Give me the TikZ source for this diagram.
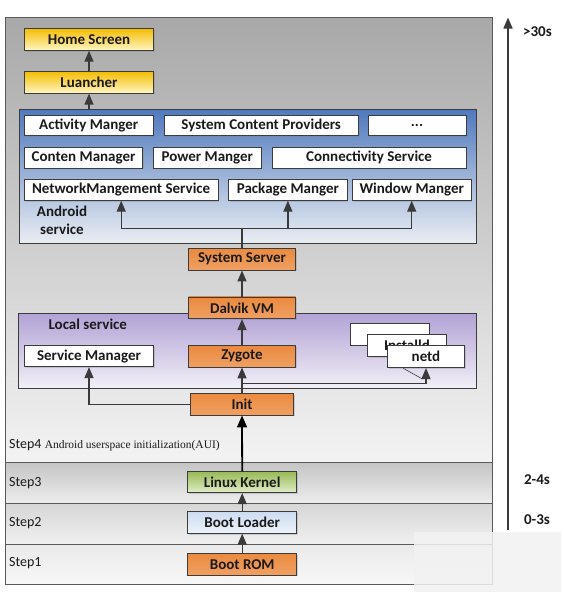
\documentclass[tikz,border=0pt]{standalone}
\usepackage{fontspec}
\setmainfont{Carlito}
\newfontfamily\seriffont{Liberation Serif}
\usetikzlibrary{arrows.meta,shadows,calc}

\definecolor{edge}{HTML}{3C3C3C}
\definecolor{arrowc}{HTML}{3A3A3A}
\definecolor{txt}{HTML}{1A1A1A}
\definecolor{bandline}{HTML}{5A5A5A}
\definecolor{sfourtop}{HTML}{A8A8A8}
\definecolor{sfourbot}{HTML}{F3F3F3}
\definecolor{sthreetop}{HTML}{C4C4C4}
\definecolor{sthreebot}{HTML}{EDEDED}
\definecolor{stwotop}{HTML}{D6D6D6}
\definecolor{stwobot}{HTML}{F0F0F0}
\definecolor{sonetop}{HTML}{EAEAEA}
\definecolor{sonebot}{HTML}{F7F7F7}
\definecolor{andtop}{RGB}{79,121,189}
\definecolor{andmid}{RGB}{190,208,230}
\definecolor{andbot}{RGB}{234,238,243}
\definecolor{loctop}{RGB}{178,162,214}
\definecolor{locbot}{RGB}{241,239,246}
\definecolor{orone}{RGB}{234,138,62}
\definecolor{ortwo}{RGB}{251,218,186}
\definecolor{orthree}{RGB}{240,160,100}
\definecolor{yeone}{RGB}{244,188,0}
\definecolor{yetwo}{RGB}{255,246,195}
\definecolor{grone}{RGB}{152,186,86}
\definecolor{grtwo}{RGB}{226,238,202}
\definecolor{blone}{RGB}{204,220,240}
\definecolor{bltwo}{RGB}{238,244,251}
\definecolor{wmark}{RGB}{242,242,242}

\tikzset{
  box/.style={draw=edge, line width=0.8pt, inner sep=0pt, text=txt,
    font=\bfseries\fontsize{15}{17}\selectfont,
    drop shadow={opacity=0.3,shadow xshift=1.2pt,shadow yshift=-1.2pt}},
  whitebox/.style={box, fill=white},
  orangebox/.style={box, top color=orone, middle color=ortwo, bottom color=orthree},
  yellowbox/.style={box, top color=yeone, bottom color=yetwo},
  greenbox/.style={box, top color=grone, bottom color=grtwo},
  bluebox/.style={box, top color=blone, bottom color=bltwo},
  arr/.style={draw=arrowc, line width=1.3pt, -{Triangle[width=9pt,length=11pt]}},
  mainarr/.style={draw=black, line width=1.8pt, -{Triangle[width=10pt,length=12pt]}},
  boldlab/.style={inner sep=0pt, text=txt, font=\bfseries\fontsize{15}{17}\selectfont},
  steplab/.style={inner sep=0pt, text=txt, font=\fontsize{14}{16}\selectfont, anchor=west},
}

\begin{document}
\begin{tikzpicture}[x=1pt,y=-1pt]
\useasboundingbox (0,0) rectangle (563,603);
\fill[white] (0,0) rectangle (563,603);

% bands
\path[top color=sfourtop, bottom color=sfourbot] (5,17) rectangle (492,462);
\path[top color=sthreetop, bottom color=sthreebot] (5,462) rectangle (492,503.5);
\path[top color=stwotop, bottom color=stwobot] (5,503.5) rectangle (492,544);
\path[top color=sonetop, bottom color=sonebot] (5,544) rectangle (492,584);
\draw[bandline, line width=0.9pt] (5,17) rectangle (492,584);
\draw[bandline, line width=0.9pt] (5,462) -- (492,462);
\draw[bandline, line width=0.9pt] (5,503.5) -- (492,503.5);
\draw[bandline, line width=0.9pt] (5,544) -- (492,544);

% group boxes
\node[draw=edge, line width=0.9pt, minimum width=457pt, minimum height=134.3pt, inner sep=0pt,
  top color=andtop, middle color=andmid, bottom color=andbot] (android) at (247.5,176.15) {};
\node[draw=edge, line width=0.9pt, minimum width=457.5pt, minimum height=74.7pt, inner sep=0pt,
  top color=loctop, bottom color=locbot] (local) at (247.25,350.65) {};

% top
\node[yellowbox, minimum width=129.4pt, minimum height=22pt] (home) at (89,39.3) {Home Screen};
\node[yellowbox, minimum width=129.4pt, minimum height=22pt] (launcher) at (89,82.2) {Luancher};

% android services
\node[whitebox, minimum width=128.5pt, minimum height=20.7pt] (activity) at (88.75,125.3) {Activity Manger};
\node[whitebox, minimum width=193.6pt, minimum height=20.7pt] (scp) at (261.2,125.3) {System Content Providers};
\node[whitebox, minimum width=98pt, minimum height=20.7pt] (dots) at (417,125.3) {...};
\node[whitebox, minimum width=118.3pt, minimum height=21.3pt] (conten) at (83.6,157.6) {Conten Manager};
\node[whitebox, minimum width=107.4pt, minimum height=21.3pt] (power) at (207.3,157.6) {Power Manger};
\node[whitebox, minimum width=193.7pt, minimum height=21.3pt] (conn) at (369.1,157.6) {Connectivity Service};
\node[whitebox, minimum width=193.5pt, minimum height=21pt] (netmgmt) at (121.2,189.8) {NetworkMangement Service};
\node[whitebox, minimum width=118.2pt, minimum height=21pt] (package) at (287.9,189.8) {Package Manger};
\node[whitebox, minimum width=118.5pt, minimum height=21pt] (window) at (411.7,189.8) {Window Manger};
\node[boldlab, align=center, font=\bfseries\fontsize{15}{17.6}\selectfont] (andlab) at (62,220.5) {Android\\service};

% center column
\node[orangebox, minimum width=107.4pt, minimum height=21.7pt] (sysserver) at (242,259.2) {System Server};
\node[orangebox, minimum width=107.4pt, minimum height=21.7pt] (dalvik) at (242,307.8) {Dalvik VM};
\node[orangebox, minimum width=107.4pt, minimum height=21.3pt] (zygote) at (242,356.3) {Zygote};
\node[orangebox, minimum width=102.6pt, minimum height=21.7pt] (init) at (242,404.2) {Init};
\node[greenbox, minimum width=109pt, minimum height=21pt] (linux) at (242.2,482.2) {Linux Kernel};
\node[bluebox, minimum width=109pt, minimum height=21.6pt] (bootloader) at (242.2,522.5) {Boot Loader};
\node[orangebox, minimum width=109pt, minimum height=21.7pt] (bootrom) at (242.2,564.2) {Boot ROM};

% local services
\node[boldlab] (loclab) at (87.8,324) {Local service};
\node[whitebox, minimum width=129pt, minimum height=21pt] (servicemgr) at (89,356.2) {Service Manager};
\node[whitebox, minimum width=79pt, minimum height=21.7pt] (stacka) at (389.5,334.2) {};
\node[whitebox, minimum width=78.3pt, minimum height=22.7pt] (installd) at (406.9,345.3) {Installd};
\coordinate (diagA) at (403.3,368.3);
\coordinate (diagB) at (422.5,379);
\draw[arrowc, line width=0.6pt] (diagA) -- (diagB);
\node[whitebox, minimum width=77.4pt, minimum height=22.7pt] (netd) at (426,356.3) {netd};

% arrows
\draw[arr] (launcher.north) -- (home.south);
\draw[arr] (launcher.south |- android.north) -- (launcher.south);
\coordinate (sb) at (242,228.3);
\draw[draw=arrowc, line width=1.3pt] (sysserver.north) -- (sb);
\draw[arr] (sb) -| (netmgmt.south);
\draw[arr] (sb) -| (window.south);
\draw[arr] (package.south |- sb) -- (package.south);
\draw[arr] (dalvik.north) -- (sysserver.south);
\draw[arr] (zygote.north) -- (dalvik.south);
\draw[arr] (init.north) -- (zygote.south);
\coordinate (br) at (242,383.3);
\draw[arr] (br) -| (netd.south);
\draw[arr] (init.west) -| (servicemgr.south);
\draw[mainarr] (linux.north) -- (init.south);
\draw[arr] (bootloader.north) -- (linux.south);
\draw[arr] (bootrom.north) -- (bootloader.south);

% step labels
\node[steplab] (s4) at (9,445) {Step4 {\seriffont\fontsize{11.5}{13}\selectfont Android userspace initialization(AUI)}};
\node[steplab] (s3) at (9,482.7) {Step3};
\node[steplab] (s2) at (9,523.3) {Step2};
\node[steplab] (s1) at (9,563.3) {Step1};

% timeline
\coordinate (tlbot) at (508,530);
\coordinate (tltop) at (508,17.5);
\draw[arr, line width=1.5pt] (tlbot) -- (tltop);
\node[boldlab] (t30) at (537.5,32) {>30s};
\node[boldlab] (t24) at (537,480) {2-4s};
\node[boldlab] (t03) at (537,520) {0-3s};

% faint overlay at lower right
\fill[wmark, opacity=0.85] (414,532) rectangle (561,592);
\end{tikzpicture}
\end{document}
